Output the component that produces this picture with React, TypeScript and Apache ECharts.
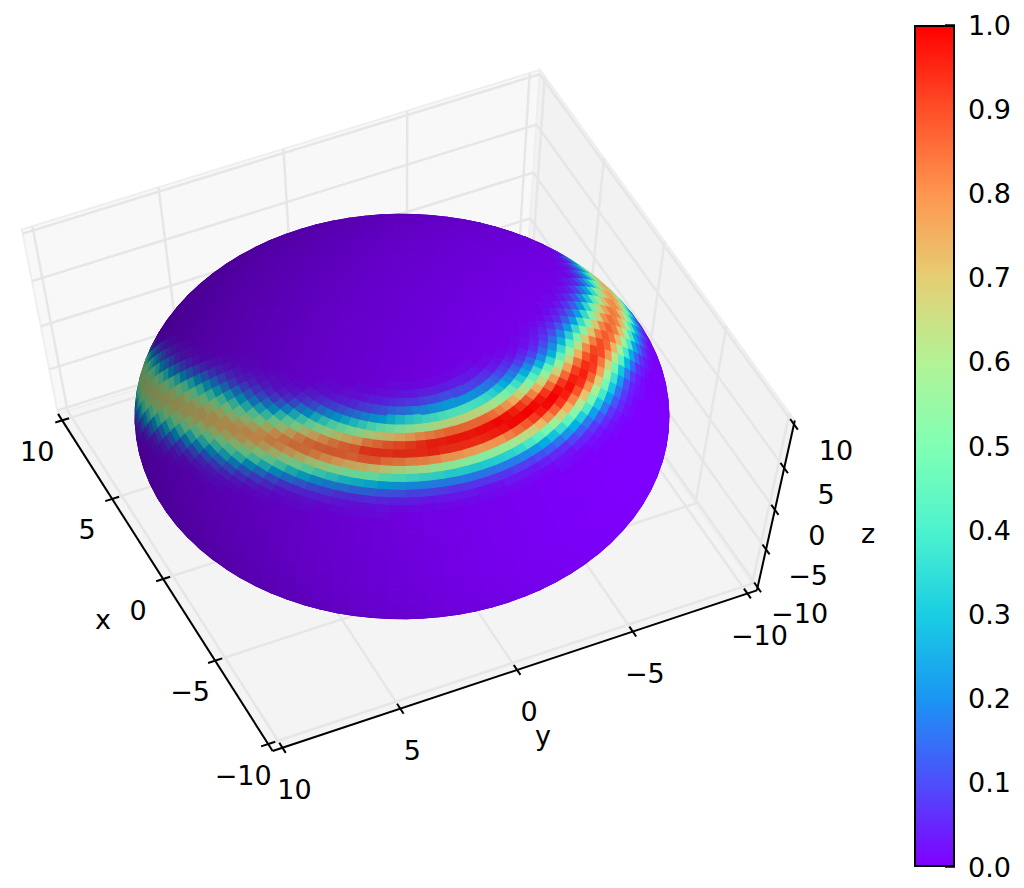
import React, { useEffect, useRef } from "react";
import * as echarts from "echarts";

const xTicks = [10, 5, 0, -5, -10];
const yTicks = [10, 5, 0, -5, -10];
const zTicks = [10, 5, 0, -5, -10];
const tickText = ["10", "5", "0", "\u22125", "\u221210"];
const colorbarTicks = [0, 0.1, 0.2, 0.3, 0.4, 0.5, 0.6, 0.7, 0.8, 0.9, 1];

const meshCols = 90;
const meshRows = 80;
const sphereRadius = 10.05;

// Estimated surface values (percent), by longitude column, going down from bandFirstRow. Everything else is 0.
const bandFirstColumn = 12;
const bandFirstRow = [30,25,23,21,19,17,15,14,14,13,12,12,11,11,10,9,9,9,9,8,8,8,8,8,7,7,7,7,7,7,7,7,7,7,7,7,7,7,7,7,7,8,8,8,9,9,10,10,10,11,11,12,13,14,14,15,17,19,20,22,23,26];
const bandValues = [
[1,3,7,14,24,36,48,56,58,52,42,29,18,10,5,2,1],
[1,2,3,6,10,16,25,34,44,52,58,60,58,51,43,33,24,16,10,6,3,1,1],
[1,2,4,7,12,19,27,36,46,54,59,61,58,52,43,34,24,16,10,6,3,2,1],
[1,2,3,6,11,17,25,35,46,55,61,63,60,54,45,34,24,16,10,6,3,1,1],
[1,1,3,6,10,16,24,34,45,55,62,65,63,57,48,38,28,19,12,7,4,2,1],
[1,2,3,6,10,16,24,34,45,55,62,66,65,60,51,41,30,21,14,8,5,2,1,1],
[1,1,3,5,9,15,23,33,44,54,63,67,67,63,55,44,33,23,15,9,5,3,1,1],
[1,1,3,6,11,18,27,38,50,60,67,69,65,57,46,35,24,15,9,5,2,1],
[1,3,5,10,18,28,40,53,63,69,69,63,53,40,28,18,10,5,3,1],
[1,2,5,10,18,29,42,55,65,71,69,62,50,36,24,14,8,4,2,1],
[1,2,4,8,15,26,39,54,66,72,70,61,48,33,21,11,6,3,1],
[1,2,6,12,21,34,50,63,72,72,64,50,35,22,12,6,2,1],
[1,2,4,9,18,30,46,61,71,74,67,54,38,24,13,6,3,1],
[1,3,7,14,25,39,55,69,75,72,61,45,30,17,9,4,2,1],
[1,3,6,12,22,36,52,67,75,75,66,52,36,22,12,6,2,1],
[1,2,4,9,18,31,47,63,75,78,71,57,41,25,14,7,3,1],
[1,2,6,12,23,39,56,72,80,77,66,49,32,18,9,4,1],
[1,3,8,17,30,48,66,79,82,74,58,40,24,12,6,2,1],
[2,4,10,21,36,55,73,83,82,69,51,32,18,8,3,1],
[1,2,5,12,24,42,61,78,85,80,64,45,27,14,6,2,1],
[1,2,6,15,28,47,67,82,86,77,60,39,22,11,5,2,1],
[1,3,8,17,32,52,72,85,86,75,56,35,19,9,4,1],
[1,4,9,20,36,57,76,87,85,72,51,31,17,7,3,1],
[2,4,11,23,41,63,82,92,87,71,49,29,15,6,2,1],
[1,2,5,12,25,45,67,85,93,87,69,47,27,14,6,2,1],
[1,2,6,14,28,48,70,88,93,84,65,43,24,12,5,2,1],
[1,3,7,16,31,52,74,90,94,83,63,41,22,11,4,1],
[1,3,8,17,34,55,77,92,94,81,60,38,20,9,4,1],
[1,3,8,19,36,58,80,94,94,81,59,36,19,9,3,1],
[1,4,9,20,38,60,82,96,95,80,57,35,18,8,3,1],
[1,4,10,21,39,62,84,96,94,78,55,33,17,7,3,1],
[1,4,10,22,41,64,86,97,94,78,54,33,17,7,3,1],
[1,4,11,23,42,65,86,97,94,77,53,32,16,7,2,1],
[1,4,11,23,42,65,86,97,94,77,53,32,16,7,2,1],
[1,4,10,22,41,65,86,98,95,78,55,33,17,7,3,1],
[1,4,10,22,40,64,86,98,96,79,56,34,17,8,3,1],
[1,4,10,21,39,62,85,99,97,82,59,36,19,8,3,1],
[1,3,9,19,37,60,82,98,99,85,63,40,21,10,4,1],
[1,3,8,17,34,56,79,96,99,88,67,44,25,12,5,2,1],
[1,3,7,16,30,51,75,93,100,92,73,50,29,15,6,2,1],
[1,2,6,13,26,46,68,89,99,96,81,58,36,20,9,4,1],
[1,4,10,21,38,61,82,97,99,87,67,44,25,12,5,2,1],
[1,3,8,17,32,53,75,93,100,93,75,52,31,16,7,3,1],
[1,2,6,13,26,44,66,86,98,96,82,61,40,22,11,5,2,1],
[1,4,9,20,36,56,78,93,98,89,71,49,30,16,7,3,1],
[1,2,6,14,27,46,67,86,96,94,80,59,39,22,11,5,2,1],
[1,4,9,20,35,56,77,92,96,87,69,48,29,15,7,3,1],
[1,2,6,14,26,45,66,85,94,92,78,57,37,21,10,4,2,1],
[1,2,4,10,20,36,56,75,89,93,84,67,47,29,16,7,3,1],
[1,3,7,15,27,44,63,81,91,90,79,62,42,26,14,6,3,1],
[1,2,5,10,19,33,51,69,83,90,86,74,57,39,24,13,6,3,1],
[1,3,6,12,22,36,53,70,83,88,84,73,56,39,24,14,7,3,1],
[1,3,6,13,23,37,53,69,82,87,83,72,56,39,25,14,7,3,1,1],
[1,3,7,13,23,36,52,67,80,85,82,72,56,40,26,15,8,4,2,1],
[1,1,3,7,13,22,35,50,65,77,83,81,72,59,44,29,18,10,5,2,1],
[1,1,3,6,11,20,31,45,59,71,79,80,74,62,48,34,22,13,7,4,2,1],
[1,2,4,8,15,25,37,51,64,73,77,74,65,52,39,26,16,9,5,2,1],
[1,3,5,10,18,29,42,56,67,73,73,66,55,41,28,18,10,5,2,1],
[1,1,3,7,13,22,34,48,60,69,71,66,56,43,29,18,10,5,2,1],
[1,3,5,11,19,29,42,55,64,68,65,56,44,31,20,11,6,3,1],
[1,2,4,8,15,25,37,49,59,65,64,57,46,34,22,13,7,4,2,1],
[1,3,6,13,23,37,50,60,62,55,43,29,17,9,4,1,1],
];

const FONT = "'DejaVu Sans', sans-serif";

// Camera fitted to the picture
const ELEV = (65 * Math.PI) / 180;
const AZIM = (155 * Math.PI) / 180;
const DIST = 9;
const KX = 552.3;
const KY = 418.5;
const CX = 403.7;
const CY = 417;
const UNIT = 0.048;
const PANE = 0.5 / UNIT;
const SPHERE_DX = -1.7;
const SPHERE_DY = -0.5;

const R3 = [-Math.sin(AZIM), Math.cos(AZIM), 0];
const U3 = [-Math.cos(AZIM) * Math.sin(ELEV), -Math.sin(AZIM) * Math.sin(ELEV), Math.cos(ELEV)];
const E3 = [Math.cos(ELEV) * Math.cos(AZIM), Math.cos(ELEV) * Math.sin(AZIM), Math.sin(ELEV)];
const dot = (a: number[], b: number[]) => a[0] * b[0] + a[1] * b[1] + a[2] * b[2];

function project(p: number[]): number[] {
  const c = [p[0] * UNIT, p[1] * UNIT, p[2] * UNIT];
  const f = DIST / (DIST - dot(c, E3));
  return [CX + KX * dot(c, R3) * f, CY - KY * dot(c, U3) * f];
}

function rainbow(x: number): number[] {
  return [Math.min(1, Math.abs(2 * x - 0.5)), Math.sin(Math.PI * x), Math.cos((Math.PI * x) / 2)];
}
const css = (c: number[], k = 1) =>
  `rgb(${Math.round(c[0] * k * 255)},${Math.round(c[1] * k * 255)},${Math.round(c[2] * k * 255)})`;

function spherePoint(j: number, i: number): number[] {
  const phi = (j * 2 * Math.PI) / meshCols;
  const th = (i * Math.PI) / meshRows;
  return [sphereRadius * Math.sin(th) * Math.cos(phi), sphereRadius * Math.sin(th) * Math.sin(phi), sphereRadius * Math.cos(th)];
}

function cellValue(j: number, i: number): number {
  const col = bandValues[j - bandFirstColumn];
  if (!col) return 0;
  const v = col[i - bandFirstRow[j - bandFirstColumn]];
  return v === undefined ? 0 : v / 100;
}

const eye = [(E3[0] * DIST) / UNIT, (E3[1] * DIST) / UNIT, (E3[2] * DIST) / UNIT];
function facesEye(p: number[]): boolean {
  return dot(p, [eye[0] - p[0], eye[1] - p[1], eye[2] - p[2]]) > 0;
}

type Cell = { j: number; i: number; v: number; depth: number; fill: string };
const cells: Cell[] = [];
const lightLen = 1.5;
for (let j = 0; j < meshCols; j++) {
  for (let i = 0; i < meshRows; i++) {
    const corners = [spherePoint(j, i), spherePoint(j + 1, i), spherePoint(j + 1, i + 1), spherePoint(j, i + 1)];
    if (!corners.some(facesEye)) continue;
    const mid = spherePoint(j + 0.5, i + 0.5);
    const s = (-mid[0] - mid[1] + 0.5 * mid[2]) / sphereRadius / lightLen;
    const shade = 0.5 + 0.25 * (1 + s);
    const v = cellValue(j, i);
    cells.push({ j, i, v, depth: dot(mid, E3), fill: css(rainbow(v), shade) });
  }
}
cells.sort((a, b) => a.depth - b.depth);

const E = PANE;
const gridSegments: number[][] = [];
for (const t of xTicks) {
  gridSegments.push([t, E, -E, t, -E, -E]);
  gridSegments.push([t, -E, -E, t, -E, E]);
}
for (const t of yTicks) {
  gridSegments.push([-E, t, -E, E, t, -E]);
  gridSegments.push([E, t, -E, E, t, E]);
}
for (const t of zTicks) {
  gridSegments.push([E, E, t, E, -E, t]);
  gridSegments.push([E, -E, t, -E, -E, t]);
}

const panes = [
  { fill: "#f4f4f4", pts: [[E, E, -E], [E, -E, -E], [-E, -E, -E], [-E, E, -E]] },
  { fill: "#f8f8f8", pts: [[E, E, -E], [E, -E, -E], [E, -E, E], [E, E, E]] },
  { fill: "#f2f2f2", pts: [[E, -E, -E], [-E, -E, -E], [-E, -E, E], [E, -E, E]] },
];

const axisSegments = [
  [E, E, -E, -E, E, -E],
  [-E, E, -E, -E, -E, -E],
  [-E, -E, -E, -E, -E, E],
];
const tl = 0.3;
const tickSegments: number[][] = [];
for (const t of xTicks) tickSegments.push([t, E - tl, -E, t, E + tl, -E]);
for (const t of yTicks) tickSegments.push([-E - tl, t, -E, -E + tl, t, -E]);
for (const t of zTicks) tickSegments.push([-E - tl, -E, t, -E + tl, -E, t]);

type Lbl = { p: number[]; dx: number; dy: number; text: string };
const labels: Lbl[] = [];
xTicks.forEach((t, k) => labels.push({ p: [t, E, -E], dx: -25, dy: 31, text: tickText[k] }));
yTicks.forEach((t, k) => labels.push({ p: [-E, t, -E], dx: 12, dy: 42, text: tickText[k] }));
zTicks.forEach((t, k) => labels.push({ p: [-E, -E, t], dx: 42, dy: 26, text: tickText[k] }));
const axisNames = [
  { text: "x", x: 103, y: 619 },
  { text: "y", x: 543, y: 735 },
  { text: "z", x: 868, y: 533 },
];

const gradientStops = colorbarTicks.map((t) => ({ offset: t, color: css(rainbow(1 - t)) }));

export default function App() {
  const ref = useRef<HTMLDivElement>(null);
  useEffect(() => {
    document.body.style.margin = "0";
    const chart = echarts.init(ref.current!, null, { renderer: "svg" });
    const px = (api: any, p: number[]) => {
      const s = project(p);
      return api.coord([s[0], s[1]]);
    };
    const lineSeries = (segs: number[][], stroke: string, width: number, z: number) => ({
      type: "custom",
      silent: true,
      z,
      clip: false,
      xAxisIndex: 0,
      yAxisIndex: 0,
      data: segs.map((_, k) => [k, k]),
      renderItem: (params: any, api: any) => {
        const s = segs[params.dataIndex];
        const a = px(api, s.slice(0, 3));
        const b = px(api, s.slice(3, 6));
        return {
          type: "line",
          shape: { x1: a[0], y1: a[1], x2: b[0], y2: b[1] },
          style: { stroke, lineWidth: width, lineCap: "butt" },
        };
      },
    });
    chart.setOption({
      animation: false,
      backgroundColor: "#fff",
      grid: [
        { left: 0, top: 0, width: 1024, height: 888 },
        { left: 914, top: 25, width: 41, height: 842 },
      ],
      xAxis: [
        { type: "value", min: 0, max: 1024, show: false, gridIndex: 0 },
        { type: "category", data: [""], show: false, gridIndex: 1 },
      ],
      yAxis: [
        { type: "value", min: 0, max: 888, inverse: true, show: false, gridIndex: 0 },
        {
          type: "value",
          min: 0,
          max: 1,
          interval: 0.1,
          position: "right",
          gridIndex: 1,
          splitLine: { show: false },
          axisLine: { show: false },
          axisTick: { show: true, inside: true, length: 10, lineStyle: { color: "#000", width: 1.5 } },
          axisLabel: {
            show: true,
            margin: 13,
            color: "#000",
            fontSize: 27,
            fontFamily: FONT,
            formatter: (v: number) => v.toFixed(1),
          },
        },
      ],
      series: [
        {
          type: "custom",
          silent: true,
          z: 1,
          clip: false,
          xAxisIndex: 0,
          yAxisIndex: 0,
          data: panes.map((_, k) => [k, k]),
          renderItem: (params: any, api: any) => {
            const pane = panes[params.dataIndex];
            return {
              type: "polygon",
              shape: { points: pane.pts.map((p) => px(api, p)) },
              style: { fill: pane.fill, stroke: "#efefef", lineWidth: 2 },
            };
          },
        },
        lineSeries(gridSegments, "#e6e6e6", 2.5, 2),
        {
          type: "custom",
          silent: true,
          z: 3,
          clip: false,
          xAxisIndex: 0,
          yAxisIndex: 0,
          progressive: 0,
          data: cells.map((c) => [c.j, c.i, c.v]),
          renderItem: (params: any, api: any) => {
            const c = cells[params.dataIndex];
            const pts = [
              spherePoint(c.j, c.i),
              spherePoint(c.j + 1, c.i),
              spherePoint(c.j + 1, c.i + 1),
              spherePoint(c.j, c.i + 1),
            ].map((p) => {
              const q = px(api, p);
              return [q[0] + SPHERE_DX, q[1] + SPHERE_DY];
            });
            return {
              type: "polygon",
              shape: { points: pts },
              style: { fill: c.fill, stroke: c.fill, lineWidth: 1.2, lineJoin: "round" },
            };
          },
        },
        lineSeries(axisSegments, "#000", 2, 4),
        lineSeries(tickSegments, "#000", 2, 4),
        {
          type: "custom",
          silent: true,
          z: 5,
          clip: false,
          xAxisIndex: 0,
          yAxisIndex: 0,
          data: [...labels.map((_, k) => [k, k]), ...axisNames.map((_, k) => [k, k])],
          renderItem: (params: any, api: any) => {
            const idx = params.dataIndex;
            let x: number, y: number, text: string;
            if (idx < labels.length) {
              const l = labels[idx];
              const s = px(api, l.p);
              x = s[0] + l.dx;
              y = s[1] + l.dy;
              text = l.text;
            } else {
              const n = axisNames[idx - labels.length];
              const s = api.coord([n.x, n.y]);
              x = s[0];
              y = s[1];
              text = n.text;
            }
            return {
              type: "text",
              x,
              y,
              style: {
                text,
                fill: "#000",
                fontSize: 27,
                fontFamily: FONT,
                align: "center",
                verticalAlign: "middle",
                textAlign: "center",
                textVerticalAlign: "middle",
              },
            };
          },
        },
        {
          type: "bar",
          silent: true,
          xAxisIndex: 1,
          yAxisIndex: 1,
          barWidth: "100%",
          data: [1],
          itemStyle: {
            borderColor: "#000",
            borderWidth: 2,
            color: new echarts.graphic.LinearGradient(0, 0, 0, 1, gradientStops),
          },
          z: 1,
        },
      ],
    });
    return () => chart.dispose();
  }, []);
  return <div ref={ref} style={{ position: "fixed", left: 0, top: 0, width: 1024, height: 888 }} />;
}
